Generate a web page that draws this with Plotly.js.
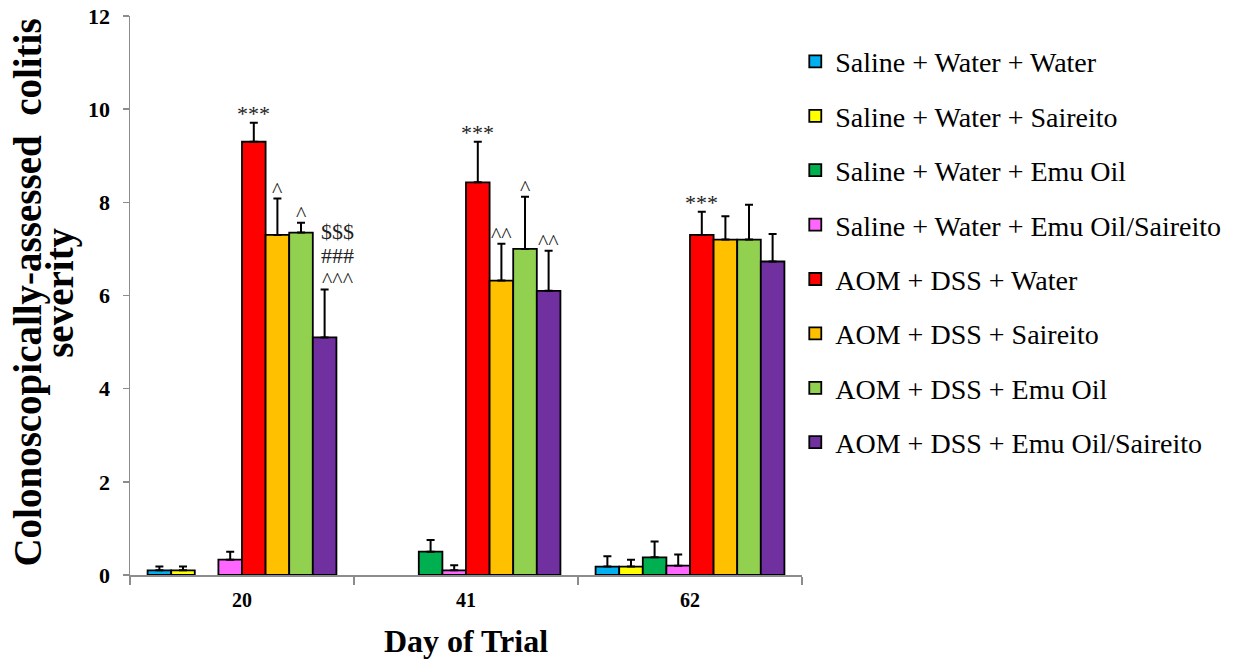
<!DOCTYPE html>
<html>
<head>
<meta charset="utf-8">
<script src="https://cdn.plot.ly/plotly-3.0.1.min.js"></script>
<style>
  html, body { margin: 0; padding: 0; background: #ffffff; }
  #chart { width: 1251px; height: 666px; }
</style>
</head>
<body>
<div id="chart"></div>
<script>
// Days of the trial (x categories)
const days = ['20', '41', '62'];

// Treatment groups (one bar series each)
const groups = [
  'Saline + Water + Water',
  'Saline + Water + Saireito',
  'Saline + Water + Emu Oil',
  'Saline + Water + Emu Oil/Saireito',
  'AOM + DSS + Water',
  'AOM + DSS + Saireito',
  'AOM + DSS + Emu Oil',
  'AOM + DSS + Emu Oil/Saireito'
];
const groupColors = ['#00B0F0', '#FFFF00', '#00B050', '#FF66FF', '#FF0000', '#FFC000', '#92D050', '#7030A0'];

// Mean colitis severity per group, one array per day
const day20Mean = [0.10, 0.10, 0.00, 0.33, 9.30, 7.30, 7.35, 5.10];
const day41Mean = [0.00, 0.00, 0.50, 0.10, 8.43, 6.32, 7.00, 6.10];
const day62Mean = [0.18, 0.18, 0.38, 0.20, 7.30, 7.20, 7.20, 6.73];

// Standard error of the mean per group, one array per day
const day20Sem = [0.08, 0.08, 0.00, 0.17, 0.41, 0.78, 0.21, 1.03];
const day41Sem = [0.00, 0.00, 0.25, 0.11, 0.87, 0.79, 1.12, 0.86];
const day62Sem = [0.22, 0.15, 0.34, 0.24, 0.50, 0.50, 0.75, 0.59];

// Significance markers: day index, group index, text (lines separated by <br>)
const sigDay   = [0, 0, 0, 0, 1, 1, 1, 1, 2];
const sigGroup = [4, 5, 6, 7, 4, 5, 6, 7, 4];
const sigText  = ['***', '^', '^', '$$$<br>###<br>^^^', '***', '^^', '^', '^^', '***'];

const meansByDay = [day20Mean, day41Mean, day62Mean];
const semByDay = [day20Sem, day41Sem, day62Sem];

const serif = 'Liberation Serif';
const barGap = 0.157;

const traces = groups.map((name, i) => {
  // a zero mean leaves no visible bar, so skip drawing an empty outline there
  const y = meansByDay.map(m => (m[i] > 0 ? m[i] : null));
  const err = semByDay.map(s => (s[i] > 0 ? s[i] : NaN));
  return {
    type: 'bar',
    name: name,
    legendgroup: 'g' + i,
    x: days,
    y: y,
    marker: { color: groupColors[i], line: { color: '#000000', width: 1.8 } },
    error_y: {
      type: 'data',
      symmetric: false,
      array: err,
      arrayminus: err.map(() => 0),
      color: '#000000',
      thickness: 2,
      width: 4
    },
    hoverinfo: 'name+y'
  };
});

// Place each marker above its bar's error cap
const barWidth = (1 - barGap) / groups.length;
const annotations = [];
sigText.forEach((txt, k) => {
  const d = sigDay[k], g = sigGroup[k];
  const xPos = d - (1 - barGap) / 2 + (g + 0.5) * barWidth;
  const top = meansByDay[d][g] + semByDay[d][g];
  const lines = txt.split('<br>');
  const stacked = lines.length > 1;
  lines.reverse().forEach((line, j) => {
    annotations.push({
      xref: 'x', yref: 'y', x: xPos, y: top,
      text: line, showarrow: false,
      xanchor: 'center', yanchor: 'bottom',
      xshift: stacked ? 13 : 0,
      yshift: -5 + j * 24,
      font: { family: serif, size: 22, color: '#222222' }
    });
  });
});

// Two-line rotated y-axis title
annotations.push({
  xref: 'paper', yref: 'paper', x: -0.152, y: 0.505,
  xanchor: 'center', yanchor: 'middle',
  text: 'Colonoscopically-assessed\u00a0 colitis', textangle: -90, showarrow: false,
  font: { family: serif, size: 39, color: '#000000', weight: 'bold' }
});
annotations.push({
  xref: 'paper', yref: 'paper', x: -0.104, y: 0.505,
  xanchor: 'center', yanchor: 'middle',
  text: 'severity', textangle: -90, showarrow: false,
  font: { family: serif, size: 39, color: '#000000', weight: 'bold' }
});

const layout = {
  width: 1251,
  height: 666,
  margin: { l: 130, r: 449, t: 16, b: 91 },
  paper_bgcolor: '#ffffff',
  plot_bgcolor: '#ffffff',
  barmode: 'group',
  bargap: barGap,
  bargroupgap: 0,
  showlegend: true,
  legend: {
    x: 0.99, xanchor: 'left',
    y: 0.963, yanchor: 'top',
    font: { family: serif, size: 28, color: '#000000' },
    tracegroupgap: 15,
    itemwidth: 30,
    bgcolor: 'rgba(0,0,0,0)'
  },
  xaxis: {
    type: 'category',
    categoryorder: 'array',
    categoryarray: days,
    showgrid: false,
    zeroline: false,
    showline: true,
    linecolor: '#8c8c8c',
    linewidth: 1.5,
    ticks: 'outside',
    tickson: 'boundaries',
    ticklen: 8,
    tickcolor: '#8c8c8c',
    tickwidth: 1.5,
    ticklabelstandoff: 6,
    tickfont: { family: serif, size: 20, color: '#000000', weight: 'bold' },
    title: {
      text: 'Day of Trial',
      standoff: 20,
      font: { family: serif, size: 32, color: '#000000', weight: 'bold' }
    },
    fixedrange: true
  },
  yaxis: {
    range: [0, 12],
    dtick: 2,
    showgrid: false,
    zeroline: false,
    showline: true,
    linecolor: '#8c8c8c',
    linewidth: 1.5,
    ticks: 'outside',
    ticklen: 6,
    tickcolor: '#8c8c8c',
    tickwidth: 1.5,
    ticklabelstandoff: 8,
    tickfont: { family: serif, size: 22, color: '#000000', weight: 'bold' },
    fixedrange: true
  },
  annotations: annotations
};

Plotly.newPlot('chart', traces, layout, { displayModeBar: false, staticPlot: true });
</script>
</body>
</html>
